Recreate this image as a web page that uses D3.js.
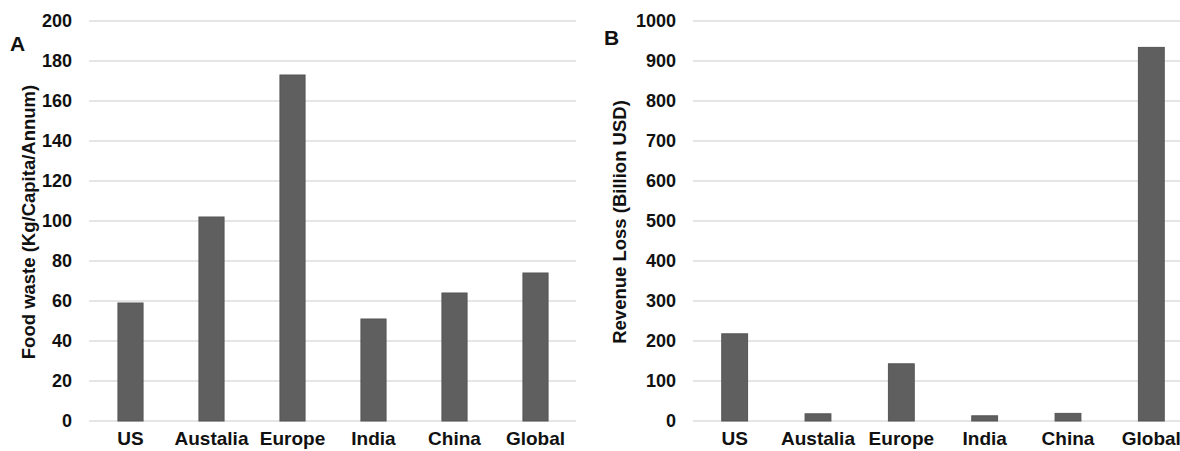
<!DOCTYPE html>
<html>
<head>
<meta charset="utf-8">
<script src="https://cdn.jsdelivr.net/npm/d3@7"></script>
<style>
  html, body { margin: 0; padding: 0; background: #fff; }
  svg { display: block; font-family: "Liberation Sans", Arial, sans-serif; }
</style>
</head>
<body>
<svg id="chart" width="1180" height="451"></svg>
<script>
const categories = ["US", "Austalia", "Europe", "India", "China", "Global"];
const foodWaste = [59, 102, 173, 51, 64, 74];
const revenueLoss = [218, 18, 143, 13, 19, 934];
const ticksA = [0, 20, 40, 60, 80, 100, 120, 140, 160, 180, 200];
const ticksB = [0, 100, 200, 300, 400, 500, 600, 700, 800, 900, 1000];

const svg = d3.select("#chart");

function panel(cfg) {
  const g = svg.append("g");
  const x = d3.scaleBand().domain(categories).range(cfg.xRange).paddingInner(0.69).paddingOuter(0.345);
  const y = d3.scaleLinear().domain([0, cfg.max]).range([421, 21]);

  // gridlines
  g.append("g").selectAll("line").data(cfg.ticks).join("line")
    .attr("x1", cfg.gridRange[0]).attr("x2", cfg.gridRange[1])
    .attr("y1", d => y(d)).attr("y2", d => y(d))
    .attr("stroke", "#dcdcdc").attr("stroke-width", 1.3);

  // y axis labels
  const ya = g.append("g").attr("transform", `translate(${cfg.tickX},0)`)
    .call(d3.axisLeft(y).tickValues(cfg.ticks).tickSize(0).tickPadding(0).tickFormat(d3.format("d")));
  ya.select(".domain").remove();
  ya.selectAll("text").attr("font-size", 18).attr("font-weight", "bold").attr("fill", "#111")
    .attr("font-family", "Liberation Sans, Arial, sans-serif");

  // bars
  g.append("g").selectAll("rect").data(cfg.values).join("rect")
    .attr("x", (d, i) => x(categories[i]))
    .attr("y", d => y(d))
    .attr("width", x.bandwidth())
    .attr("height", d => y(0) - y(d))
    .attr("fill", "#5f5f5f").attr("stroke", "#555").attr("stroke-width", 1);

  // x labels
  const xa = g.append("g").attr("transform", "translate(0,431)")
    .call(d3.axisBottom(x).tickSize(0).tickPadding(0));
  xa.select(".domain").remove();
  xa.selectAll("text").attr("font-size", 19).attr("font-weight", "bold").attr("fill", "#111")
    .attr("font-family", "Liberation Sans, Arial, sans-serif").attr("dy", "0.71em");

  // y title
  g.append("text")
    .attr("transform", `translate(${cfg.titleX},${cfg.titleY}) rotate(-90)`)
    .attr("text-anchor", "middle").attr("dy", "0.35em")
    .attr("font-size", 18.5).attr("font-weight", "bold").attr("fill", "#111")
    .text(cfg.title);

  // panel letter
  g.append("text").attr("x", cfg.letterX).attr("y", cfg.letterY)
    .attr("font-size", 21).attr("font-weight", "bold").attr("fill", "#111")
    .text(cfg.letter);
}

panel({
  xRange: [90, 576], gridRange: [89, 576], max: 200, ticks: ticksA, values: foodWaste,
  tickX: 72, title: "Food waste (Kg/Capita/Annum)", titleX: 29, titleY: 222,
  letter: "A", letterX: 10, letterY: 51
});
panel({
  xRange: [693, 1193], gridRange: [693, 1180], max: 1000, ticks: ticksB, values: revenueLoss,
  tickX: 676, title: "Revenue Loss (Billion USD)", titleX: 620, titleY: 222,
  letter: "B", letterX: 604, letterY: 45
});
</script>
</body>
</html>
